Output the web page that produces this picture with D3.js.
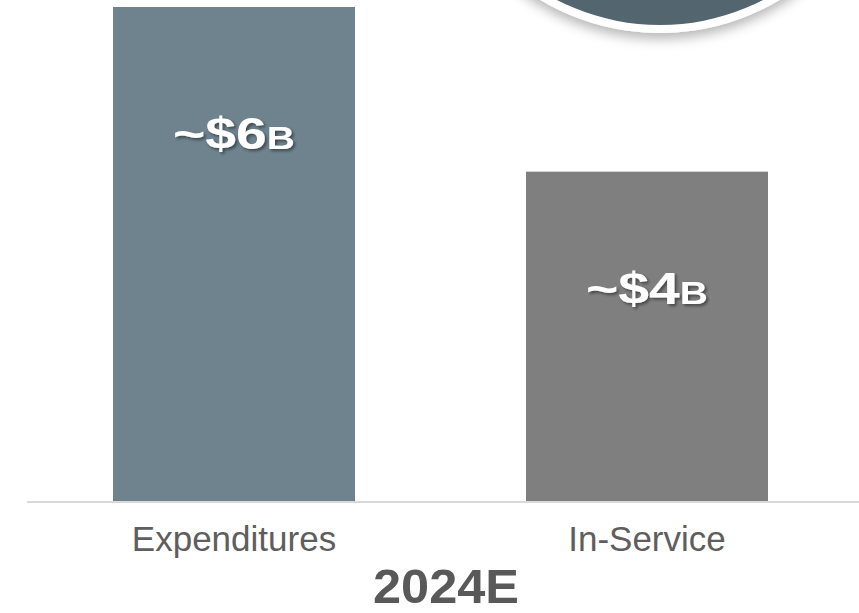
<!DOCTYPE html>
<html>
<head>
<meta charset="utf-8">
<script src="https://cdn.jsdelivr.net/npm/d3@7"></script>
<style>
	html, body { margin: 0; padding: 0; background: #fff; }
	svg { display: block; }
</style>
</head>
<body>
<div id="svg-container"></div>
<script>

// DATA
const categories = ['Expenditures', 'In-Service'];
const values = [6, 4];
const valueLabels = ['~$6', '~$4'];
const valueUnit = 'B';
const yearLabel = '2024E';
const barColors = ['#6e838e', '#7f7f7f'];


// CALLBACK: draw chart
function visualizeData(height = 613, width = 859) {
	const h = height;
	const w = width;

	const svg = d3.select('#svg-container').append('svg')
		.attr('height', h)
		.attr('width', w);

	// filters
	const defs = svg.append('defs');
	const circShadow = defs.append('filter')
		.attr('id', 'circ-shadow')
		.attr('x', '-20%').attr('y', '-20%')
		.attr('width', '140%').attr('height', '140%');
	circShadow.append('feDropShadow')
		.attr('dx', 0).attr('dy', 6)
		.attr('stdDeviation', 6)
		.attr('flood-color', '#000')
		.attr('flood-opacity', 0.28);
	const textShadow = defs.append('filter')
		.attr('id', 'text-shadow')
		.attr('x', '-10%').attr('y', '-20%')
		.attr('width', '130%').attr('height', '150%');
	textShadow.append('feDropShadow')
		.attr('dx', 2).attr('dy', 2)
		.attr('stdDeviation', 1.5)
		.attr('flood-color', '#000')
		.attr('flood-opacity', 0.45);

	// badge circle at top (cropped)
	svg.append('circle')
		.attr('cx', 660).attr('cy', -200).attr('r', 233)
		.attr('fill', '#fff')
		.attr('filter', 'url(#circ-shadow)');
	svg.append('circle')
		.attr('cx', 660).attr('cy', -200).attr('r', 225)
		.attr('fill', '#536670');

	// scales
	const xScale = d3.scaleBand()
		.domain(categories)
		.range([30.4, 850.6])
		.paddingInner(0.414)
		.paddingOuter(0.2);
	const yScale = d3.scaleLinear()
		.domain([0, 6])
		.range([501, 7]);

	// bars
	svg.selectAll('rect.bar')
		.data(values)
		.enter()
		.append('rect')
		.attr('class', 'bar')
		.attr('x', (d, i) => xScale(categories[i]))
		.attr('y', d => yScale(d))
		.attr('width', xScale.bandwidth())
		.attr('height', d => yScale(0) - yScale(d))
		.attr('fill', (d, i) => barColors[i]);

	// baseline
	svg.append('line')
		.attr('x1', 27).attr('x2', w)
		.attr('y1', yScale(0) + 1).attr('y2', yScale(0) + 1)
		.attr('stroke', '#d9d9d9')
		.attr('stroke-width', 2);

	// value labels inside bars
	const labelDy = [142, 132];
	const labels = svg.selectAll('text.value')
		.data(values)
		.enter()
		.append('text')
		.attr('class', 'value')
		.attr('x', (d, i) => xScale(categories[i]) + xScale.bandwidth() / 2 - 61)
		.attr('y', (d, i) => yScale(d) + labelDy[i])
		.attr('textLength', 122)
		.attr('lengthAdjust', 'spacingAndGlyphs')
		.attr('font-family', 'Liberation Sans, Arial, sans-serif')
		.attr('font-weight', 'bold')
		.attr('fill', '#fff')
		.attr('filter', 'url(#text-shadow)');
	labels.append('tspan')
		.attr('font-size', 44)
		.text((d, i) => valueLabels[i]);
	labels.append('tspan')
		.attr('font-size', 31)
		.text(valueUnit);

	// category axis labels
	svg.selectAll('text.cat')
		.data(categories)
		.enter()
		.append('text')
		.attr('class', 'cat')
		.attr('x', d => xScale(d) + xScale.bandwidth() / 2)
		.attr('y', 551)
		.attr('text-anchor', 'middle')
		.attr('font-family', 'Liberation Sans, Arial, sans-serif')
		.attr('font-size', 35)
		.attr('fill', '#5e5e5e')
		.text(d => d);

	// year label
	svg.append('text')
		.attr('x', 373)
		.attr('y', 603)
		.attr('textLength', 146)
		.attr('lengthAdjust', 'spacingAndGlyphs')
		.attr('font-family', 'Liberation Sans, Arial, sans-serif')
		.attr('font-weight', 'bold')
		.attr('font-size', 48)
		.attr('fill', '#595959')
		.text(yearLabel);
}


document.addEventListener('DOMContentLoaded', () => {
	visualizeData();
});
</script>
</body>
</html>
